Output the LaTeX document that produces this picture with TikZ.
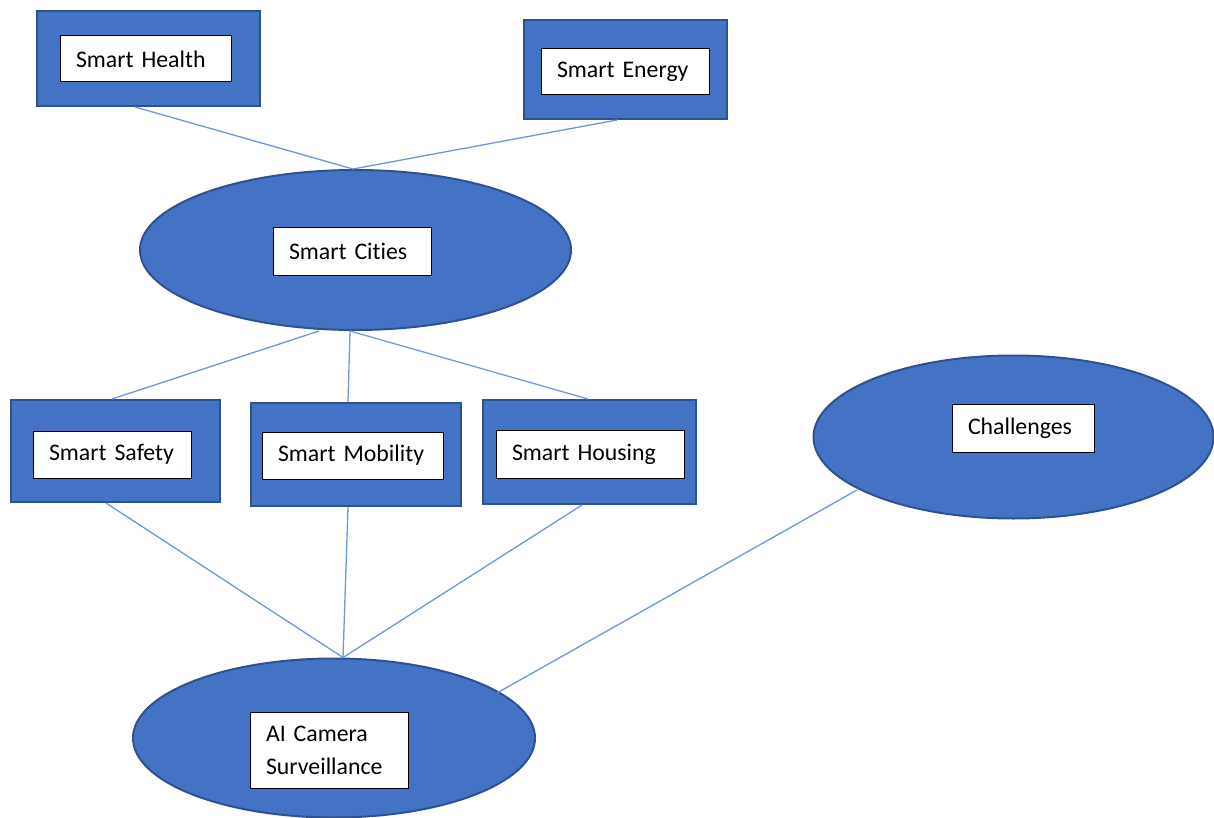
\documentclass[tikz,border=0pt]{standalone}
\usepackage{fontspec}
\setmainfont{Carlito}[Ligatures=NoCommon, WordSpace=0.7]
\usetikzlibrary{shapes.geometric,calc}
\definecolor{fillblue}{HTML}{4472C4}
\definecolor{edgeblue}{HTML}{2F528F}
\definecolor{linkblue}{HTML}{6C97DD}
\begin{document}
\begin{tikzpicture}[x=1pt,y=-1pt,
  outerbox/.style={rectangle, draw=edgeblue, fill=fillblue, line width=2pt, inner sep=0pt},
  blob/.style={ellipse, draw=edgeblue, fill=fillblue, line width=2pt, inner sep=0pt},
  tag/.style={rectangle, draw=black, fill=white, line width=1pt, inner xsep=16pt, inner ysep=0pt,
    align=left, font=\fontsize{23.8}{33}\selectfont},
  link/.style={draw=linkblue, line width=1.3pt}]
\useasboundingbox (0,0) rectangle (1214,818);
% outer shapes
\node[outerbox, minimum width=223pt, minimum height=95pt] (health) at (148.5,58.5) {};
\node[outerbox, minimum width=203pt, minimum height=99pt] (energy) at (625.5,69.5) {};
\node[blob, minimum width=431pt, minimum height=160pt] (cities) at (355.5,250) {};
\node[outerbox, minimum width=209pt, minimum height=102pt] (safety) at (115.5,451) {};
\node[outerbox, minimum width=210pt, minimum height=103pt] (mobility) at (356,454.5) {};
\node[outerbox, minimum width=213pt, minimum height=104pt] (housing) at (589.5,452) {};
\node[blob, minimum width=400pt, minimum height=163pt] (chal) at (1013.5,437) {};
\node[blob, minimum width=402pt, minimum height=159pt] (ai) at (334,738) {};
% labels
\node[tag, text width=139pt, minimum height=46pt] (thealth) at (145.5,59) {Smart Health};
\node[tag, text width=136pt, minimum height=46pt] (tenergy) at (625,72) {Smart Energy};
\node[tag, text width=126pt, minimum height=47pt] (tcities) at (352,251.5) {Smart Cities};
\node[tag, text width=126pt, minimum height=47pt] (tsafety) at (112,454.5) {Smart Safety};
\node[tag, text width=149pt, minimum height=47pt] (tmobility) at (352.5,455.5) {Smart Mobility};
\node[tag, text width=156pt, minimum height=48pt] (thousing) at (590,454) {Smart Housing};
\node[tag, text width=110pt, minimum height=48pt] (tchal) at (1023,428) {Challenges};
\node[tag, text width=126pt, minimum height=76pt] (tai) at (329,750) {AI Camera\\Surveillance};
% connectors
\draw[link] ($(health.south)+(-13.5,0)$) -- ($(cities.north)+(-2.5,0)$);
\draw[link] ($(energy.south)+(-8.5,0)$) -- ($(cities.north)+(-2.5,0)$);
\draw[link] ($(cities.south)+(-36.5,0)$) -- ($(safety.north)+(-3.5,0)$);
\draw[link] ($(cities.south)+(-5.5,0)$) -- ($(mobility.north)+(-8,0)$);
\draw[link] ($(cities.south)+(-5.5,0)$) -- ($(housing.north)+(-1.5,0)$);
\draw[link] ($(safety.south)+(-9.5,0)$) -- ($(ai.north)+(9,0)$);
\draw[link] ($(mobility.south)+(-8,0)$) -- ($(ai.north)+(9,0)$);
\draw[link] ($(housing.south)+(-7.5,0)$) -- ($(ai.north)+(9,0)$);
\draw[link] ($(chal.center)+(-156.5,53)$) -- ($(ai.center)+(163,-45)$);
\end{tikzpicture}
\end{document}
